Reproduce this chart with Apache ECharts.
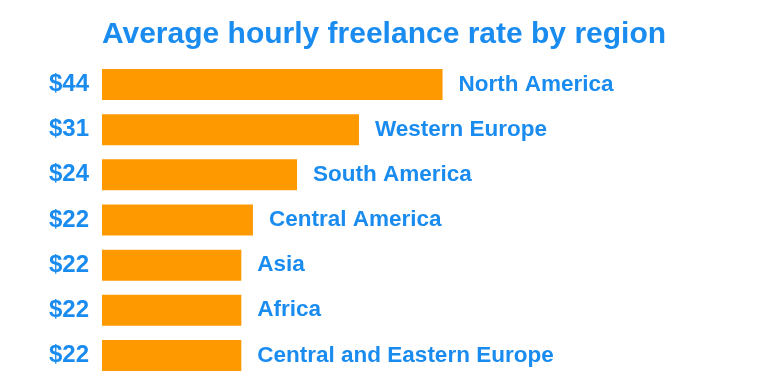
<!DOCTYPE html>
<html>
<head>
<meta charset="utf-8">
<script src="https://cdn.jsdelivr.net/npm/echarts@6/dist/echarts.min.js"></script>
<style>
html,body{margin:0;padding:0;background:#fff;}
#chart{width:768px;height:384px;}
</style>
</head>
<body>
<div id="chart"></div>
<script>
const titleText = "Average hourly freelance rate by region";
const regions = ["North America", "Western Europe", "South America", "Central America", "Asia", "Africa", "Central and Eastern Europe"];
const rateLabels = ["$44", "$31", "$24", "$22", "$22", "$22", "$22"];
const barValues = [44, 33.2, 25.2, 19.5, 18, 18, 18];

const BLUE = "#1a8cf0";
const ORANGE = "#ff9900";
const FONT = "'Liberation Sans', Arial, Helvetica, sans-serif";

const chart = echarts.init(document.getElementById('chart'), null, {renderer: 'canvas'});
chart.setOption({
  animation: false,
  backgroundColor: '#ffffff',
  title: {
    text: titleText,
    left: 'center',
    top: 15,
    textStyle: {color: BLUE, fontSize: 30, fontWeight: 'bold', fontFamily: FONT}
  },
  grid: {left: 102, top: 62, width: 387, height: 316, containLabel: false},
  xAxis: {
    type: 'value', min: 0, max: 50,
    show: false
  },
  yAxis: {
    type: 'category',
    inverse: true,
    data: regions,
    axisLine: {show: false},
    axisTick: {show: false},
    splitLine: {show: false},
    axisLabel: {
      margin: 13,
      color: BLUE,
      fontSize: 24,
      fontWeight: 'bold',
      fontFamily: FONT,
      padding: [3, 0, 0, 0],
      formatter: function (v, i) { return rateLabels[i]; }
    }
  },
  series: [{
    type: 'bar',
    data: barValues,
    barWidth: 31,
    itemStyle: {color: ORANGE},
    label: {
      show: true,
      position: 'right',
      distance: 16,
      color: BLUE,
      fontSize: 22.5,
      fontWeight: 'bold',
      fontFamily: FONT,
      formatter: function (p) { return regions[p.dataIndex]; }
    }
  }]
});
</script>
</body>
</html>
